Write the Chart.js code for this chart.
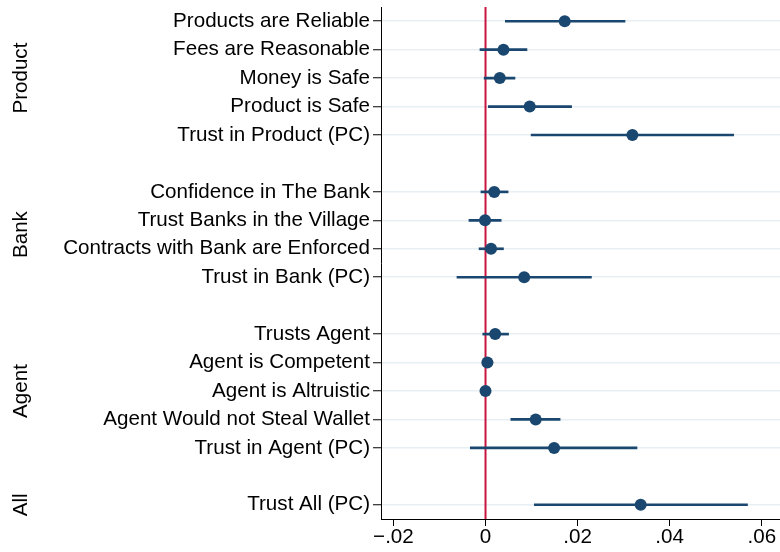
<!DOCTYPE html>
<html>
<head>
<meta charset="utf-8">
<script src="https://cdn.jsdelivr.net/npm/chart.js@4/dist/chart.umd.min.js"></script>
<style>
  html, body { margin: 0; padding: 0; background: #ffffff; overflow: hidden; }
  #wrap { width: 800px; height: 552px; }
</style>
</head>
<body>
<div id="wrap"><canvas id="c" width="800" height="552"></canvas></div>
<script>
const rowLabels = [
  "Products are Reliable", "Fees are Reasonable", "Money is Safe", "Product is Safe", "Trust in Product (PC)",
  "Confidence in The Bank", "Trust Banks in the Village", "Contracts with Bank are Enforced", "Trust in Bank (PC)",
  "Trusts Agent", "Agent is Competent", "Agent is Altruistic", "Agent Would not Steal Wallet", "Trust in Agent (PC)",
  "Trust All (PC)"
];
const rowGroups = [
  "Product", "Product", "Product", "Product", "Product",
  "Bank", "Bank", "Bank", "Bank",
  "Agent", "Agent", "Agent", "Agent", "Agent",
  "All"
];
const rowPositions = [0, 1, 2, 3, 4, 6, 7, 8, 9, 11, 12, 13, 14, 15, 17];
const estimates = [0.0172, 0.0039, 0.0031, 0.0096, 0.0319, 0.0019, -0.0001, 0.0012, 0.0084, 0.0021, 0.0004, 0.0000, 0.0109, 0.0149, 0.0337];
const lowerCI  = [0.0043, -0.0012, -0.0003, 0.0006, 0.0099, -0.0010, -0.0036, -0.0014, -0.0062, -0.0006, -0.0007, -0.0007, 0.0055, -0.0033, 0.0106];
const upperCI  = [0.0303, 0.0090, 0.0064, 0.0187, 0.0539, 0.0049, 0.0034, 0.0039, 0.0230, 0.0050, 0.0016, 0.0007, 0.0162, 0.0329, 0.0569];
const groupNames = ["Product", "Bank", "Agent", "All"];
const xTickValues = [-0.02, 0, 0.02, 0.04, 0.06];
const xTickLabels = ["\u2212.02", "0", ".02", ".04", ".06"];
const refLineX = 0;

const FONT = '"Liberation Sans", Arial, Helvetica, sans-serif';
const FSIZE = 20.6;
const NAVY = '#1a476f';
const RED = '#c8163e';

const groupLabelPlugin = {
  id: 'groupLabels',
  afterDraw(chart) {
    const ys = chart.scales.y;
    const ctx = chart.ctx;
    ctx.save();
    ctx.fillStyle = '#000';
    ctx.font = FSIZE + 'px ' + FONT;
    ctx.textAlign = 'center';
    ctx.textBaseline = 'middle';
    groupNames.forEach(g => {
      const pos = rowPositions.filter((p, i) => rowGroups[i] === g);
      const center = (Math.min(...pos) + Math.max(...pos)) / 2;
      const py = ys.getPixelForValue(center);
      ctx.save();
      ctx.translate(21, py);
      ctx.rotate(-Math.PI / 2);
      ctx.fillText(g, 0, 0);
      ctx.restore();
    });
    ctx.restore();
  }
};

new Chart(document.getElementById('c'), {
  data: {
    datasets: [
      {
        type: 'line',
        order: 3,
        data: [{ x: refLineX, y: -0.5 }, { x: refLineX, y: 17.5 }],
        borderColor: RED,
        borderWidth: 2,
        pointRadius: 0,
        fill: false
      },
      {
        type: 'bar',
        order: 2,
        data: rowPositions.map((p, i) => ({ y: p, x: [lowerCI[i], upperCI[i]] })),
        backgroundColor: NAVY,
        borderWidth: 0,
        barThickness: 2
      },
      {
        type: 'scatter',
        order: 1,
        data: rowPositions.map((p, i) => ({ x: estimates[i], y: p })),
        backgroundColor: NAVY,
        borderColor: NAVY,
        pointRadius: 6,
        borderWidth: 0
      }
    ]
  },
  options: {
    indexAxis: 'y',
    responsive: false,
    animation: false,
    devicePixelRatio: 1,
    layout: { padding: { top: 7, left: 0, right: 0, bottom: 0 } },
    plugins: { legend: { display: false }, tooltip: { enabled: false } },
    scales: {
      x: {
        type: 'linear',
        position: 'bottom',
        min: -0.0227,
        max: 0.067,
        offset: false,
        afterBuildTicks: s => { s.ticks = xTickValues.map(v => ({ value: v })); },
        afterFit: s => { s.height = 33; s.paddingLeft = 0; s.paddingRight = 0; },
        ticks: {
          callback: (v) => { const k = xTickValues.indexOf(v); return k >= 0 ? xTickLabels[k] : ''; },
          color: '#000',
          font: { family: FONT, size: FSIZE },
          padding: -1,
          maxRotation: 0,
          autoSkip: false
        },
        grid: { offset: false, drawOnChartArea: false, tickLength: 7, tickColor: '#000', tickWidth: 1 },
        border: { color: '#000', width: 1 }
      },
      y: {
        type: 'linear',
        position: 'left',
        reverse: true,
        min: -0.5,
        max: 17.5,
        offset: false,
        afterBuildTicks: s => { s.ticks = rowPositions.map(v => ({ value: v })); },
        afterFit: s => { s.width = 381; s.paddingTop = 0; s.paddingBottom = 0; },
        ticks: {
          callback: (v) => { const k = rowPositions.indexOf(v); return k >= 0 ? rowLabels[k] : ''; },
          color: '#000',
          font: { family: FONT, size: FSIZE },
          padding: 3,
          autoSkip: false
        },
        grid: { offset: false, color: '#e8eff3', lineWidth: 1.5, tickLength: 8, tickColor: '#000', tickWidth: 1 },
        border: { color: '#000', width: 1 }
      }
    }
  },
  plugins: [groupLabelPlugin]
});
</script>
</body>
</html>
